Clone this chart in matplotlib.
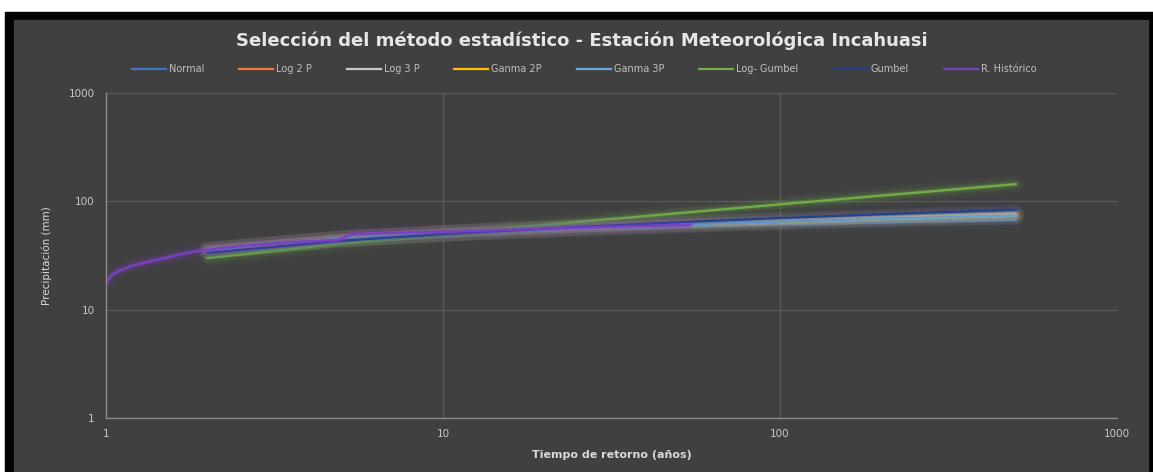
import numpy as np
import matplotlib
matplotlib.use("Agg")
import matplotlib.pyplot as plt
from matplotlib.patches import Rectangle

## DATA

# return periods used for the fitted distributions
periodos = [2, 5, 10, 25, 50, 100, 200, 500]

normal = [36.0, 45.2, 50.0, 55.1, 58.4, 61.4, 64.1, 67.5]
log_2p = [34.9, 44.9, 50.7, 57.4, 62.2, 66.7, 71.2, 76.8]
log_3p = [35.0, 45.0, 50.8, 57.6, 62.5, 67.0, 71.5, 77.2]
ganma_2p = [35.4, 45.1, 50.5, 56.6, 60.8, 64.8, 68.6, 73.3]
ganma_3p = [35.5, 45.2, 50.6, 56.8, 61.0, 65.0, 68.8, 73.6]
log_gumbel = [30.0, 40.7, 49.9, 64.4, 77.7, 93.8, 113.0, 144.0]
gumbel = [33.5, 43.3, 49.8, 58.0, 64.0, 70.1, 76.1, 84.0]

# historical record (return period, precipitation)
t_hist = [1.0, 1.04, 1.1, 1.2, 1.35, 1.5, 1.7, 1.9, 2.2, 2.6, 3.2, 3.8,
          4.9, 5.4, 6.8, 9.0, 13.5, 18.0, 27.0, 54.0]
p_hist = [17.6, 21.0, 23.0, 25.5, 28.0, 30.0, 33.0, 35.0, 37.0, 39.0, 41.0, 42.5,
          44.0, 50.0, 51.0, 52.0, 53.5, 55.5, 57.5, 60.5]

series = [
    ("Normal", periodos, normal, "#4472C4"),
    ("Log 2 P", periodos, log_2p, "#ED7D31"),
    ("Log 3 P", periodos, log_3p, "#C8C8C8"),
    ("Ganma 2P", periodos, ganma_2p, "#FFC000"),
    ("Ganma 3P", periodos, ganma_3p, "#6FA8DC"),
    ("Log- Gumbel", periodos, log_gumbel, "#70AD47"),
    ("Gumbel", periodos, gumbel, "#26408A"),
    ("R. Histórico", t_hist, p_hist, "#7B3FC4"),
]

## FIGURE

bg = "#404040"
W, H = 1153, 472
fig = plt.figure(figsize=(W / 100, H / 100), dpi=100, facecolor="white")

# black frame and dark chart area
fig.patches.append(Rectangle((5 / W, 0), 1 - 5 / W, 1 - 12 / H,
                             transform=fig.transFigure, color="black", zorder=-10))
fig.patches.append(Rectangle((14 / W, 0), (1148 - 14) / W, 1 - 20 / H,
                             transform=fig.transFigure, color=bg, zorder=-9))

ax = fig.add_axes([106 / W, 1 - 418 / H, (1117 - 106) / W, (418 - 93) / H])
ax.set_facecolor(bg)
ax.set_xscale("log")
ax.set_yscale("log")
ax.set_xlim(1, 1000)
ax.set_ylim(1, 1000)

ax.grid(True, which="major", color="#5a5a5a", lw=0.9)
ax.grid(False, which="minor")
ax.minorticks_off()
for s in ["top", "right"]:
    ax.spines[s].set_visible(False)
for s in ["left", "bottom"]:
    ax.spines[s].set_color("#8a8a8a")
    ax.spines[s].set_linewidth(1.0)
ax.tick_params(length=0, colors="#c8c8c8", labelsize=7.5, pad=8)
ticks = [1, 10, 100, 1000]
ax.set_xticks(ticks)
ax.set_yticks(ticks)
ax.set_xticklabels([str(t) for t in ticks])
ax.set_yticklabels([str(t) for t in ticks])

# lines with a soft glow behind each one
for name, x, y, c in series:
    ax.plot(x, y, color=c, lw=12, alpha=0.06, solid_capstyle="round")
    ax.plot(x, y, color=c, lw=7, alpha=0.12, solid_capstyle="round")
    ax.plot(x, y, color=c, lw=3.5, alpha=0.25, solid_capstyle="round")
    ax.plot(x, y, color=c, lw=1.6, label=name)

ax.set_xlabel("Tiempo de retorno (años)", color="#d9d9d9", fontsize=8,
              fontweight="bold", labelpad=8)
ax.set_ylabel("Precipitación (mm)", color="#d9d9d9", fontsize=7.5, labelpad=12)

fig.text(582 / W, 1 - 41 / H,
         "Selección del método estadístico - Estación Meteorológica Incahuasi",
         ha="center", va="center", color="#e6e6e6", fontsize=13, fontweight="bold")

leg = fig.legend(loc="center", bbox_to_anchor=(584 / W, 1 - 69 / H), ncol=8,
                 frameon=False, fontsize=7, handlelength=3.5, columnspacing=3.6,
                 handletextpad=0.3, labelcolor="#bfbfbf")

plt.savefig("out.png", dpi=100, facecolor=fig.get_facecolor())
